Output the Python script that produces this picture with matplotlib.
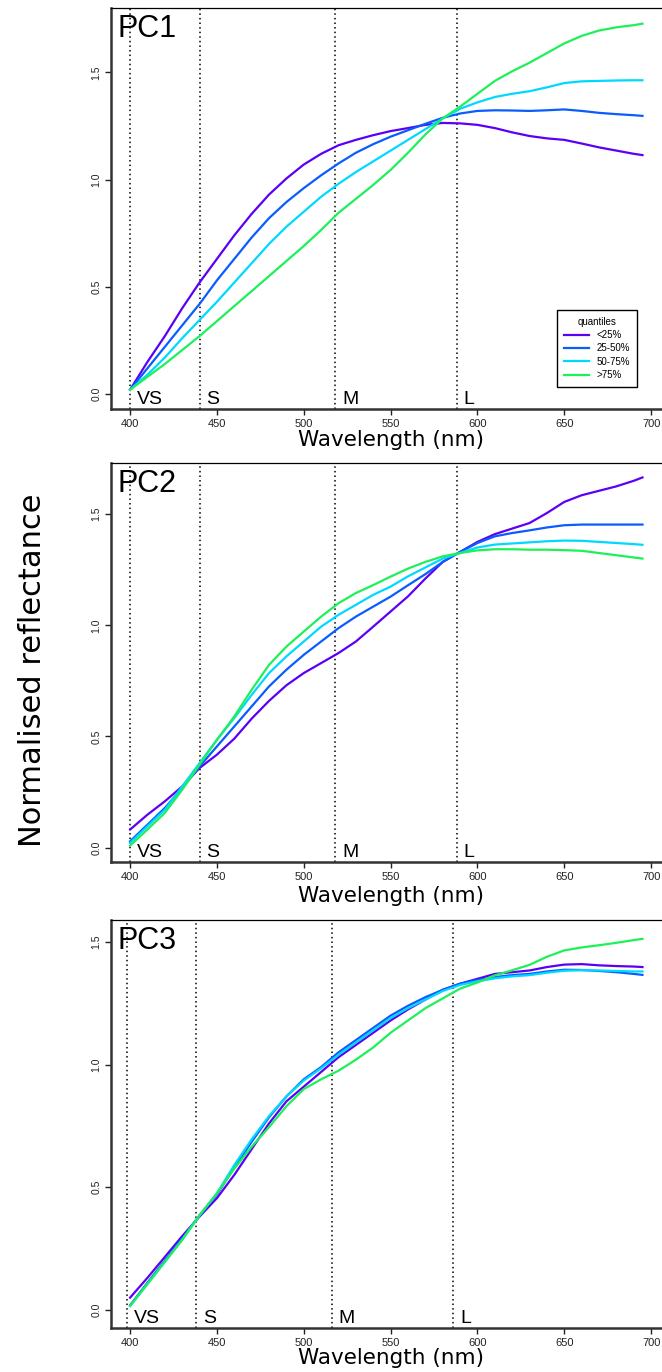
import numpy as np
import matplotlib
matplotlib.use("Agg")
import matplotlib.pyplot as plt

# wavelengths (nm) at which the curves were read
wl = [400, 410, 420, 430, 440, 450, 460, 470, 480, 490, 500, 510, 520, 530, 540, 550,
      560, 570, 580, 590, 600, 610, 620, 630, 640, 650, 660, 670, 680, 690, 695]

quantiles = ["<25%", "25-50%", "50-75%", ">75%"]
colors = ["#5B00F5", "#0A5CFF", "#00D9FF", "#1EF05A"]

# PC1
pc1_q1 = [0.02, 0.15, 0.27, 0.40, 0.52, 0.63, 0.74, 0.84, 0.93, 1.005, 1.07, 1.12, 1.16, 1.185, 1.207, 1.226,
          1.24, 1.255, 1.264, 1.262, 1.255, 1.24, 1.22, 1.203, 1.192, 1.185, 1.168, 1.15, 1.135, 1.12, 1.114]
pc1_q2 = [0.02, 0.12, 0.22, 0.32, 0.42, 0.53, 0.63, 0.73, 0.82, 0.895, 0.96, 1.02, 1.075, 1.125, 1.165, 1.20,
          1.23, 1.26, 1.288, 1.308, 1.32, 1.323, 1.322, 1.32, 1.323, 1.327, 1.32, 1.311, 1.305, 1.30, 1.297]
pc1_q3 = [0.02, 0.09, 0.17, 0.26, 0.345, 0.43, 0.52, 0.61, 0.70, 0.78, 0.85, 0.92, 0.98, 1.035, 1.085, 1.135,
          1.185, 1.235, 1.285, 1.33, 1.36, 1.385, 1.40, 1.412, 1.43, 1.45, 1.458, 1.46, 1.462, 1.463, 1.463]
pc1_q4 = [0.02, 0.08, 0.14, 0.205, 0.27, 0.34, 0.41, 0.48, 0.55, 0.62, 0.69, 0.765, 0.845, 0.91, 0.975, 1.045,
          1.125, 1.21, 1.285, 1.34, 1.40, 1.46, 1.505, 1.545, 1.59, 1.635, 1.67, 1.695, 1.71, 1.72, 1.727]

# PC2
pc2_q1 = [0.081, 0.148, 0.208, 0.275, 0.358, 0.418, 0.49, 0.58, 0.66, 0.73, 0.785, 0.83, 0.875, 0.927, 0.994, 1.062,
          1.13, 1.21, 1.285, 1.33, 1.375, 1.41, 1.435, 1.46, 1.505, 1.555, 1.585, 1.605, 1.625, 1.65, 1.665]
pc2_q2 = [0.028, 0.103, 0.178, 0.268, 0.365, 0.455, 0.545, 0.635, 0.725, 0.80, 0.867, 0.927, 0.987, 1.039, 1.084, 1.129,
          1.18, 1.23, 1.285, 1.33, 1.37, 1.40, 1.415, 1.427, 1.44, 1.45, 1.453, 1.453, 1.453, 1.453, 1.453]
pc2_q3 = [0.021, 0.096, 0.17, 0.275, 0.38, 0.485, 0.583, 0.687, 0.785, 0.86, 0.927, 0.994, 1.047, 1.092, 1.137, 1.174,
          1.22, 1.26, 1.30, 1.325, 1.35, 1.363, 1.368, 1.373, 1.378, 1.381, 1.38, 1.375, 1.37, 1.365, 1.362]
pc2_q4 = [0.009, 0.081, 0.156, 0.26, 0.373, 0.485, 0.59, 0.71, 0.822, 0.904, 0.972, 1.039, 1.099, 1.145, 1.181, 1.219,
          1.255, 1.285, 1.31, 1.325, 1.337, 1.342, 1.342, 1.34, 1.34, 1.338, 1.335, 1.325, 1.315, 1.305, 1.30]

# PC3
pc3_q1 = [0.049, 0.13, 0.215, 0.30, 0.38, 0.455, 0.55, 0.655, 0.76, 0.85, 0.91, 0.97, 1.03, 1.08, 1.13, 1.18,
          1.225, 1.265, 1.305, 1.33, 1.35, 1.37, 1.377, 1.384, 1.398, 1.408, 1.41, 1.405, 1.402, 1.40, 1.398]
pc3_q2 = [0.018, 0.11, 0.20, 0.29, 0.385, 0.47, 0.58, 0.685, 0.785, 0.87, 0.94, 0.99, 1.05, 1.10, 1.15, 1.20,
          1.24, 1.275, 1.305, 1.33, 1.345, 1.357, 1.365, 1.37, 1.38, 1.387, 1.386, 1.382, 1.377, 1.37, 1.366]
pc3_q3 = [0.015, 0.105, 0.195, 0.285, 0.385, 0.475, 0.59, 0.695, 0.79, 0.87, 0.935, 0.985, 1.04, 1.09, 1.14, 1.19,
          1.23, 1.265, 1.30, 1.325, 1.34, 1.352, 1.36, 1.365, 1.375, 1.383, 1.385, 1.384, 1.382, 1.38, 1.38]
pc3_q4 = [0.015, 0.105, 0.195, 0.285, 0.385, 0.475, 0.575, 0.665, 0.745, 0.83, 0.90, 0.94, 0.975, 1.02, 1.07, 1.13,
          1.18, 1.23, 1.27, 1.31, 1.335, 1.364, 1.385, 1.407, 1.44, 1.466, 1.478, 1.487, 1.497, 1.508, 1.513]

panel_names = ["PC1", "PC2", "PC3"]
cone_labels = ["VS", "S", "M", "L"]
cone_pos = [[400, 440, 518, 588],
            [400, 440, 518, 588],
            [398, 438, 516, 586]]

series = [[pc1_q1, pc1_q2, pc1_q3, pc1_q4],
          [pc2_q1, pc2_q2, pc2_q3, pc2_q4],
          [pc3_q1, pc3_q2, pc3_q3, pc3_q4]]
ylims = [(-0.07, 1.80), (-0.065, 1.73), (-0.075, 1.59)]

# axes boxes in pixels: (top, bottom)
W, H = 662, 1372
boxes = [(8, 409), (463, 862), (920, 1328)]
left_px, right_px = 111, 672
label_pad = [1.0, 3.0, 0.0]

fig = plt.figure(figsize=(W / 100, H / 100), dpi=100)

for i in range(3):
    top, bot = boxes[i]
    ax = fig.add_axes([left_px / W, 1 - bot / H, (right_px - left_px) / W, (bot - top) / H])
    for q in range(4):
        ax.plot(wl, series[i][q], color=colors[q], lw=1.6, label=quantiles[q], zorder=3)
    for c, lab in zip(cone_pos[i], cone_labels):
        ax.axvline(c, color="black", ls=(0, (1, 2)), lw=1.1, zorder=2)
        ax.text(c + 4, ylims[i][0] + 0.003, lab, fontsize=14, family="Liberation Sans",
                ha="left", va="bottom")
    ax.set_xlim(389, 712)
    ax.set_ylim(*ylims[i])
    ax.set_xticks([400, 450, 500, 550, 600, 650, 700])
    ax.set_yticks([0.0, 0.5, 1.0, 1.5])
    ax.set_yticklabels(["0.0", "0.5", "1.0", "1.5"], rotation=90, va="center",
                       family="Liberation Sans", fontsize=7.5)
    ax.set_xticklabels([str(v) for v in [400, 450, 500, 550, 600, 650, 700]],
                       family="Liberation Sans", fontsize=8)
    ax.tick_params(length=4, width=1, colors="#222222", pad=3)
    for s in ["left", "bottom"]:
        ax.spines[s].set_linewidth(1.8)
        ax.spines[s].set_color("#333333")
    ax.spines["top"].set_linewidth(0.9)
    ax.spines["right"].set_linewidth(0.9)
    ax.set_xlabel("Wavelength (nm)", fontsize=15.5, family="DejaVu Sans", labelpad=label_pad[i])
    ax.text(0.011, 0.985, panel_names[i], transform=ax.transAxes, fontsize=22,
            family="Liberation Sans", ha="left", va="top")
    if i == 0:
        leg = ax.legend(title="quantiles", loc="lower right", bbox_to_anchor=(0.9376, 0.055),
                        borderaxespad=0, fancybox=False, framealpha=1, edgecolor="black",
                        prop={"family": "Liberation Sans", "size": 7}, handlelength=2.6,
                        labelspacing=0.35, borderpad=0.7)
        leg.get_title().set_fontsize(7)
        leg.get_title().set_family("Liberation Sans")
        leg.get_frame().set_linewidth(1.0)

fig.text(33 / W, 1 - 670 / H, "Normalised reflectance", rotation=90, fontsize=22,
         family="DejaVu Sans", ha="center", va="center")

fig.savefig("out.png", dpi=100)
